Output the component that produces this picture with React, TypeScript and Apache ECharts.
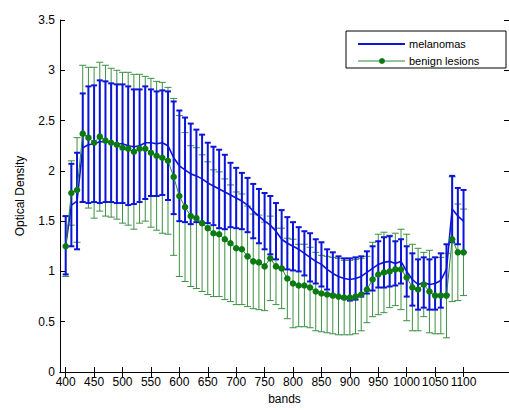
import { useEffect, useRef } from "react";
import * as echarts from "echarts";

const bands = [
  400, 410, 420, 430, 440, 450, 460, 470, 480, 490,
  500, 510, 520, 530, 540, 550, 560, 570, 580, 590,
  600, 610, 620, 630, 640, 650, 660, 670, 680, 690,
  700, 710, 720, 730, 740, 750, 760, 770, 780, 790,
  800, 810, 820, 830, 840, 850, 860, 870, 880, 890,
  900, 910, 920, 930, 940, 950, 960, 970, 980, 990,
  1000, 1010, 1020, 1030, 1040, 1050, 1060, 1070, 1080, 1090, 1100,
];

const melanomaMean = [
  1.26, 1.66, 1.7, 2.23, 2.26, 2.27, 2.29, 2.29, 2.28, 2.27,
  2.27, 2.25, 2.24, 2.25, 2.28, 2.28, 2.27, 2.28, 2.25, 2.13,
  2.05, 2.01, 1.97, 1.95, 1.92, 1.88, 1.85, 1.82, 1.79, 1.76,
  1.73, 1.7, 1.66, 1.6, 1.55, 1.5, 1.46, 1.4, 1.32, 1.28,
  1.25, 1.22, 1.18, 1.14, 1.1, 1.07, 1.02, 0.98, 0.95, 0.93,
  0.92, 0.93, 0.95, 0.99, 1.03, 1.07, 1.09, 1.1, 1.08, 1.1,
  1.0, 0.92, 0.87, 0.89, 0.87, 0.88, 0.91, 1.02, 1.62, 1.55, 1.5,
];

const melanomaStd = [
  0.29, 0.41, 0.48, 0.54, 0.58, 0.58, 0.61, 0.6, 0.59, 0.59,
  0.59, 0.59, 0.57, 0.56, 0.56, 0.53, 0.52, 0.52, 0.54, 0.56,
  0.55, 0.52, 0.5, 0.46, 0.44, 0.4, 0.39, 0.39, 0.37, 0.32,
  0.3, 0.28, 0.27, 0.27, 0.27, 0.28, 0.29, 0.28, 0.29, 0.26,
  0.24, 0.22, 0.22, 0.24, 0.22, 0.22, 0.2, 0.21, 0.2, 0.2,
  0.21, 0.21, 0.2, 0.21, 0.22, 0.23, 0.25, 0.25, 0.22, 0.22,
  0.25, 0.26, 0.25, 0.25, 0.25, 0.26, 0.27, 0.25, 0.33, 0.28, 0.31,
];

const benignMean = [
  1.25, 1.78, 1.81, 2.37, 2.33, 2.28, 2.34, 2.3, 2.28, 2.26,
  2.23, 2.22, 2.19, 2.22, 2.22, 2.18, 2.15, 2.13, 2.1, 1.94,
  1.75, 1.64, 1.55, 1.53, 1.48, 1.43, 1.38, 1.37, 1.32, 1.28,
  1.23, 1.22, 1.15, 1.1, 1.09, 1.05, 1.13, 1.05, 1.03, 0.93,
  0.88, 0.86, 0.86, 0.84, 0.8, 0.78, 0.77, 0.76, 0.75, 0.74,
  0.74, 0.75, 0.77, 0.82, 0.92, 0.97, 0.99, 1.0, 1.02, 1.02,
  0.94, 0.84, 0.82, 0.87, 0.8, 0.76, 0.76, 0.76, 1.32, 1.19, 1.19,
];

const benignStd = [
  0.3, 0.32, 0.52, 0.68, 0.7, 0.75, 0.74, 0.75, 0.74, 0.74,
  0.75, 0.76, 0.77, 0.74, 0.72, 0.74, 0.74, 0.75, 0.73, 0.78,
  0.8, 0.74, 0.7, 0.7, 0.68, 0.66, 0.63, 0.62, 0.6, 0.58,
  0.56, 0.55, 0.5, 0.47, 0.47, 0.44, 0.42, 0.38, 0.4, 0.4,
  0.44, 0.41, 0.41, 0.4, 0.39, 0.38, 0.38, 0.38, 0.38, 0.37,
  0.37, 0.37, 0.36, 0.33, 0.37, 0.4, 0.4, 0.36, 0.36, 0.4,
  0.43, 0.43, 0.41, 0.32, 0.41, 0.38, 0.38, 0.42, 0.62, 0.48, 0.43,
];

const xTicks = [400, 450, 500, 550, 600, 650, 700, 750, 800, 850, 900, 950, 1000, 1050, 1100];

const BLUE = "#0c14d8";
const GREEN_BAR = "#3d8f45";
const GREEN_LINE = "#2a8a35";
const GREEN_MARK = "#0b7a12";
const FONT = "Liberation Sans, Arial, sans-serif";

function errorBars(name: string, mean: number[], std: number[], color: string, lw: number, cap: number) {
  return {
    type: "custom",
    name,
    silent: true,
    xAxisIndex: 0,
    yAxisIndex: 0,
    data: bands.map((b, i) => [b, mean[i] - std[i], mean[i] + std[i]]),
    encode: { x: 0, y: [1, 2] },
    renderItem: (_params: any, api: any) => {
      const x = api.value(0);
      const lo = api.coord([x, api.value(1)]);
      const hi = api.coord([x, api.value(2)]);
      const style = { stroke: color, lineWidth: lw, fill: "none" };
      return {
        type: "group",
        children: [
          { type: "line", shape: { x1: lo[0], y1: lo[1], x2: hi[0], y2: hi[1] }, style },
          { type: "line", shape: { x1: lo[0] - cap, y1: lo[1], x2: lo[0] + cap, y2: lo[1] }, style },
          { type: "line", shape: { x1: hi[0] - cap, y1: hi[1], x2: hi[0] + cap, y2: hi[1] }, style },
        ],
      };
    },
  };
}

export default function App() {
  const ref = useRef<HTMLDivElement>(null);
  useEffect(() => {
    if (!ref.current) return;
    const chart = echarts.init(ref.current, undefined, { renderer: "svg" });
    const axisCommon = {
      axisLine: { show: true, lineStyle: { color: "#000", width: 1 } },
      splitLine: { show: false },
    };
    chart.setOption({
      animation: false,
      backgroundColor: "#fff",
      grid: { left: 60, right: -1, top: 20, bottom: 37, containLabel: false },
      xAxis: [
        {
          type: "value",
          min: 390,
          max: 1180,
          position: "bottom",
          ...axisCommon,
          axisTick: { show: true, inside: true, length: 5, customValues: xTicks, lineStyle: { color: "#000" } },
          axisLabel: {
            customValues: xTicks,
            color: "#000",
            fontSize: 12,
            margin: 4,
            fontFamily: FONT,
            hideOverlap: false,
            formatter: (v: number) => String(v),
          },
          name: "bands",
          nameLocation: "middle",
          nameGap: 21,
          nameTextStyle: { color: "#000", fontSize: 12, fontFamily: FONT },
        },
        {
          type: "value",
          min: 390,
          max: 1180,
          position: "top",
          ...axisCommon,
          axisTick: { show: true, inside: true, length: 5, customValues: xTicks, lineStyle: { color: "#000" } },
          axisLabel: { show: false },
        },
      ],
      yAxis: [
        {
          type: "value",
          min: 0,
          max: 3.5,
          interval: 0.5,
          position: "left",
          ...axisCommon,
          axisTick: { show: true, inside: true, length: 5, lineStyle: { color: "#000" } },
          axisLabel: { color: "#000", fontSize: 12, margin: 5, fontFamily: FONT, formatter: (v: number) => String(v) },
          name: "Optical Density",
          nameLocation: "middle",
          nameGap: 34,
          nameTextStyle: { color: "#000", fontSize: 12, fontFamily: FONT },
        },
        {
          type: "value",
          min: 0,
          max: 3.5,
          interval: 0.5,
          position: "right",
          ...axisCommon,
          axisTick: { show: true, inside: true, length: 5, lineStyle: { color: "#000" } },
          axisLabel: { show: false },
        },
      ],
      series: [
        errorBars("benign lesions bars", benignMean, benignStd, GREEN_BAR, 1, 3.5),
        errorBars("melanomas bars", melanomaMean, melanomaStd, BLUE, 2, 3),
        {
          type: "line",
          name: "melanomas",
          xAxisIndex: 0,
          yAxisIndex: 0,
          data: bands.map((b, i) => [b, melanomaMean[i]]),
          showSymbol: false,
          symbol: "none",
          lineStyle: { color: BLUE, width: 1.6 },
          itemStyle: { color: BLUE },
          silent: true,
        },
        {
          type: "line",
          name: "benign lesions",
          xAxisIndex: 0,
          yAxisIndex: 0,
          data: bands.map((b, i) => [b, benignMean[i]]),
          symbol: "circle",
          symbolSize: 6.5,
          showSymbol: true,
          lineStyle: { color: GREEN_LINE, width: 1 },
          itemStyle: { color: GREEN_MARK },
          silent: true,
        },
      ],
      graphic: [
        {
          type: "group",
          children: [
            { type: "rect", shape: { x: 346, y: 31, width: 160, height: 37 }, style: { fill: "#fff", stroke: "#000", lineWidth: 1 } },
            { type: "line", shape: { x1: 358, y1: 44, x2: 405, y2: 44 }, style: { stroke: BLUE, lineWidth: 2 } },
            { type: "text", x: 409, y: 44, style: { text: "melanomas", fill: "#000", font: `11px ${FONT}`, verticalAlign: "middle", align: "left" } },
            { type: "line", shape: { x1: 358, y1: 61, x2: 405, y2: 61 }, style: { stroke: GREEN_LINE, lineWidth: 1 } },
            { type: "circle", shape: { cx: 382, cy: 61, r: 3 }, style: { fill: GREEN_MARK } },
            { type: "text", x: 409, y: 61, style: { text: "benign lesions", fill: "#000", font: `11px ${FONT}`, verticalAlign: "middle", align: "left" } },
          ],
        },
      ],
    });
    return () => chart.dispose();
  }, []);
  return <div ref={ref} style={{ width: 509, height: 410, position: "absolute", left: 0, top: 0 }} />;
}
